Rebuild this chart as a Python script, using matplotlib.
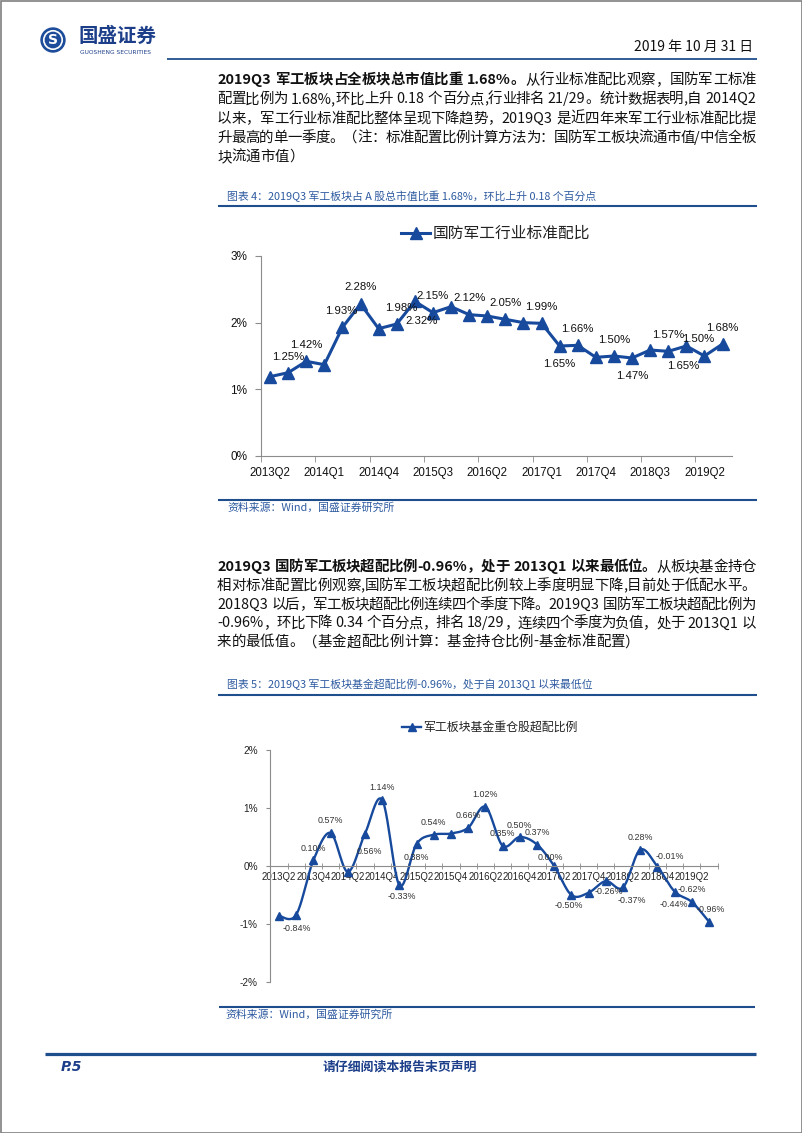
import numpy as np
import matplotlib
matplotlib.use("Agg")
import matplotlib.pyplot as plt
from matplotlib.patches import Circle, Rectangle

plt.rcParams['font.family'] = ['Noto Sans CJK SC', 'DejaVu Sans']

# ---------------- data ----------------
quarters = ['2013Q2', '2013Q3', '2013Q4', '2014Q1', '2014Q2', '2014Q3', '2014Q4',
            '2015Q1', '2015Q2', '2015Q3', '2015Q4', '2016Q1', '2016Q2', '2016Q3',
            '2016Q4', '2017Q1', '2017Q2', '2017Q3', '2017Q4', '2018Q1', '2018Q2',
            '2018Q3', '2018Q4', '2019Q1', '2019Q2', '2019Q3']

# chart 1: 国防军工行业标准配比 (%)
std_ratio = [1.19, 1.25, 1.42, 1.37, 1.93, 2.28, 1.91, 1.98, 2.32, 2.15, 2.24, 2.12, 2.10,
             2.05, 2.00, 1.99, 1.65, 1.66, 1.48, 1.50, 1.47, 1.59, 1.57, 1.65, 1.50, 1.68]
std_labeled = [1, 2, 4, 5, 7, 8, 9, 11, 13, 15, 16, 17, 19, 20, 22, 23, 24, 25]

# chart 2: 军工板块基金重仓股超配比例 (%)
fund_over = [-0.86, -0.84, 0.10, 0.57, -0.10, 0.56, 1.14, -0.33, 0.38, 0.54, 0.56, 0.66, 1.02,
             0.35, 0.50, 0.37, 0.00, -0.50, -0.46, -0.26, -0.37, 0.28, -0.01, -0.44, -0.62, -0.96]
fund_labeled = [1, 2, 3, 5, 6, 7, 8, 9, 11, 12, 13, 14, 15, 16, 17, 19, 20, 21, 22, 23, 24, 25]

# label offsets in pixels (dx, dy; dy down)
std_off = {1: (0, -16), 2: (0, -16), 4: (-1, -16), 5: (0, -17), 7: (5, -16), 8: (7, 20),
           9: (0, -17), 11: (0, -17), 13: (0, -16), 15: (0, -16), 16: (0, 18), 17: (0, -16),
           19: (0, -16), 20: (0, 18), 22: (0, -16), 23: (-3, 20), 24: (-6, -17), 25: (0, -16)}
fund_off = {1: (1, 14), 2: (0, -12), 3: (0, -12), 5: (4, 18), 6: (0, -12), 7: (2, 11),
            8: (0, 14), 9: (0, -12), 11: (0, -12), 12: (0, -12), 13: (0, -12), 14: (0, -12),
            15: (0, -12), 16: (-4, -9), 17: (-3, 10), 19: (3, 10), 20: (9, 13), 21: (0, -12),
            22: (12, -10), 23: (-1, 13), 24: (0, -12), 25: (2, -12)}

para1 = [
    [('2019Q3 军工板块占全板块总市值比重 1.68%。', 'bold'), ('从行业标准配比观察，国防军工标准', 'normal')],
    [('配置比例为 1.68%,环比上升 0.18 个百分点,行业排名 21/29。统计数据表明,自 2014Q2', 'normal')],
    [('以来，军工行业标准配比整体呈现下降趋势，2019Q3 是近四年来军工行业标准配比提', 'normal')],
    [('升最高的单一季度。（注：标准配置比例计算方法为：国防军工板块流通市值/中信全板', 'normal')],
    [('块流通市值）', 'normal')],
]
para2 = [
    [('2019Q3 国防军工板块超配比例-0.96%，处于 2013Q1 以来最低位。', 'bold'), ('从板块基金持仓', 'normal')],
    [('相对标准配置比例观察,国防军工板块超配比例较上季度明显下降,目前处于低配水平。', 'normal')],
    [('2018Q3 以后，军工板块超配比例连续四个季度下降。2019Q3 国防军工板块超配比例为', 'normal')],
    [('-0.96%，环比下降 0.34 个百分点，排名 18/29，连续四个季度为负值，处于 2013Q1 以', 'normal')],
    [('来的最低值。（基金超配比例计算：基金持仓比例-基金标准配置）', 'normal')],
]

# ---------------- style ----------------
W, H = 802, 1133
BLUE = '#174a9c'
DARK = '#1f4e8c'
CAP = '#2d5aa0'
GRAY = '#8c8c8c'
BODY = 10.4

fig = plt.figure(figsize=(W / 100, H / 100), dpi=100)
bg = fig.add_axes([0, 0, 1, 1])
bg.set_xlim(0, W)
bg.set_ylim(H, 0)
bg.axis('off')


def px_axes(l, t, r, b):
    return fig.add_axes([l / W, 1 - b / H, (r - l) / W, (b - t) / H])


def hline(y, x0, x1, lw=1.5, color=DARK):
    bg.plot([x0, x1], [y, y], color=color, lw=lw, solid_capstyle='butt')


def split_tokens(s):
    toks, buf = [], ''
    for ch in s:
        if ord(ch) < 128 and ch != ' ':
            buf += ch
        else:
            if buf:
                toks.append(buf)
                buf = ''
            toks.append(ch)
    if buf:
        toks.append(buf)
    return toks


def draw_line(y, segments, justify, left=217, right=756):
    texts = []
    for s, weight in segments:
        for tok in split_tokens(s):
            texts.append(bg.text(0, y, tok, fontsize=BODY, fontweight=weight,
                                 va='center', ha='left', color='#111111'))
    r = fig.canvas.get_renderer()
    widths = []
    for t in texts:
        if t.get_text() == ' ':
            widths.append(BODY * 100 / 72 * 0.3)
        else:
            widths.append(t.get_window_extent(r).width)
    gap = (right - left - sum(widths)) / (len(texts) - 1) if justify else 0
    xpos = left
    for t, w in zip(texts, widths):
        t.set_x(xpos)
        xpos += w + gap


def catmull_rom(xv, yv, n=24):
    P = np.column_stack([xv, yv]).astype(float)
    out = []
    for i in range(len(P) - 1):
        p0 = P[i - 1] if i > 0 else P[i]
        p1, p2 = P[i], P[i + 1]
        p3 = P[i + 2] if i + 2 < len(P) else P[i + 1]
        t = np.linspace(0, 1, n)[:, None]
        seg = 0.5 * (2 * p1 + (-p0 + p2) * t + (2 * p0 - 5 * p1 + 4 * p2 - p3) * t ** 2
                     + (-p0 + 3 * p1 - 3 * p2 + p3) * t ** 3)
        out.append(seg if i == 0 else seg[1:])
    out = np.vstack(out)
    return out[:, 0], out[:, 1]


# ---------------- page frame ----------------
bg.add_patch(Rectangle((0.5, 0.5), W - 1, H - 1, fill=False, ec='#7f7f7f', lw=1.2))

# logo
bg.add_patch(Circle((53, 40), 12, color='#1d4d9a'))
bg.add_patch(Circle((53, 40), 9.2, fill=False, ec='white', lw=1.2))
bg.text(53, 40.5, 'S', color='white', fontsize=10, fontweight='bold', ha='center', va='center',
        family='DejaVu Sans')
bg.text(79, 36, '国盛证券', fontsize=14, fontweight='bold', color='#1d3f8a', va='center')
bg.text(80, 52, 'GUOSHENG SECURITIES', fontsize=4.2, color='#1d3f8a', va='center',
        family='DejaVu Sans')
bg.text(753, 47, '2019 年 10 月 31 日', fontsize=10, ha='right', va='center', color='#111111')
hline(59, 167, 757, lw=1.3)

# paragraph 1
for k, segs in enumerate(para1):
    draw_line(80 + 19.25 * k, segs, k < len(para1) - 1)

# caption 4
bg.text(227, 196, '图表 4：2019Q3 军工板块占 A 股总市值比重 1.68%，环比上升 0.18 个百分点',
        fontsize=7.8, color=CAP, va='center')
hline(206, 218, 757)

# ---------------- chart 1 ----------------
x = np.arange(len(quarters))
ax1 = px_axes(261, 256, 731.6, 456)
ax1.plot(x, std_ratio, color=BLUE, lw=2.2, marker='^', ms=8.5, clip_on=False)
ax1.set_xlim(-0.5, len(quarters) - 0.5)
ax1.set_ylim(0, 3)
ax1.set_yticks([0, 1, 2, 3], labels=[f'{v}%' for v in [0, 1, 2, 3]],
               fontsize=8.5, fontfamily='Liberation Sans')
ax1.set_xticks(x[::3], labels=quarters[::3], fontsize=8.3, fontfamily='Liberation Sans')
ax1.set_xticks(np.arange(-0.5, len(quarters), 3), minor=True)
ax1.tick_params(axis='x', which='major', length=0, pad=8, colors='#111111')
ax1.tick_params(axis='x', which='minor', length=4, color=GRAY)
ax1.tick_params(axis='y', length=4, pad=6, colors='#111111')
ax1.tick_params(axis='y', color=GRAY)
for s in ['top', 'right']:
    ax1.spines[s].set_visible(False)
for s in ['left', 'bottom']:
    ax1.spines[s].set_color(GRAY)
for i in std_labeled:
    dx, dy = std_off[i]
    ax1.annotate(f'{std_ratio[i]:.2f}%', (x[i], std_ratio[i]), xytext=(dx, -dy),
                 textcoords='offset pixels', ha='center', va='center', fontsize=8.2,
                 family='Liberation Sans', color='#111111')

# legend 1
bg.plot([401, 430], [233, 233], color=BLUE, lw=2.2)
bg.plot([415.5], [233], marker='^', ms=8.5, color=BLUE)
bg.text(433, 233, '国防军工行业标准配比', fontsize=11.3, va='center', color='#222222')

# source 1
hline(500, 218, 757)
bg.text(227, 508, '资料来源：Wind，国盛证券研究所', fontsize=7.8, color=CAP, va='center')

# paragraph 2
for k, segs in enumerate(para2):
    draw_line(567 + 18.8 * k, segs, k < len(para2) - 1)

# caption 5
bg.text(227, 684, '图表 5：2019Q3 军工板块基金超配比例-0.96%，处于自 2013Q1 以来最低位',
        fontsize=7.8, color=CAP, va='center')
hline(695, 218, 757)

# ---------------- chart 2 ----------------
ax2 = px_axes(270.4, 750, 717.6, 982)
sx, sy = catmull_rom(x, fund_over)
ax2.plot(sx, sy, color=BLUE, lw=1.7)
ax2.plot(x, fund_over, ls='none', marker='^', ms=6, color=BLUE)
ax2.set_xlim(-0.5, len(quarters) - 0.5)
ax2.set_ylim(-2, 2)
ax2.spines['bottom'].set_position(('data', 0))
for s in ['top', 'right']:
    ax2.spines[s].set_visible(False)
for s in ['left', 'bottom']:
    ax2.spines[s].set_color(GRAY)
ax2.set_yticks([2, 1, 0, -1, -2], labels=[f'{v}%' for v in [2, 1, 0, -1, -2]],
               fontsize=7.2, fontfamily='Liberation Sans')
ax2.set_xticks(x[::2], labels=quarters[::2], fontsize=6.9, fontfamily='Liberation Sans')
ax2.set_xticks(np.arange(-0.5, len(quarters), 1), minor=True)
ax2.tick_params(axis='x', which='major', length=0, pad=4, colors='#222222')
ax2.tick_params(axis='x', which='minor', length=5, direction='inout', color=GRAY)
ax2.tick_params(axis='y', length=3, pad=6, colors='#222222')
ax2.tick_params(axis='y', color=GRAY)
for i in fund_labeled:
    dx, dy = fund_off[i]
    ax2.annotate(f'{fund_over[i]:.2f}%', (x[i], fund_over[i]), xytext=(dx, -dy),
                 textcoords='offset pixels', ha='center', va='center', fontsize=6.4,
                 family='Liberation Sans', color='#333333')

# legend 2
bg.plot([402, 421], [727, 727], color=BLUE, lw=1.7)
bg.plot([411.5], [727], marker='^', ms=6, color=BLUE)
bg.text(423, 727, '军工板块基金重仓股超配比例', fontsize=8.6, va='center', color='#222222')

# source 2
hline(1007, 219, 755)
bg.text(225, 1015, '资料来源：Wind，国盛证券研究所', fontsize=7.8, color=CAP, va='center')

# footer
hline(1054, 45, 756, lw=2.3)
bg.text(61, 1067, 'P.5', fontsize=10, fontweight='bold', style='italic', color='#1d3f8a',
        va='center', family='DejaVu Sans')
bg.text(400, 1067, '请仔细阅读本报告末页声明', fontsize=9.3, fontweight='bold', color='#1d3f8a',
        ha='center', va='center')

fig.savefig('out.png', dpi=100)
